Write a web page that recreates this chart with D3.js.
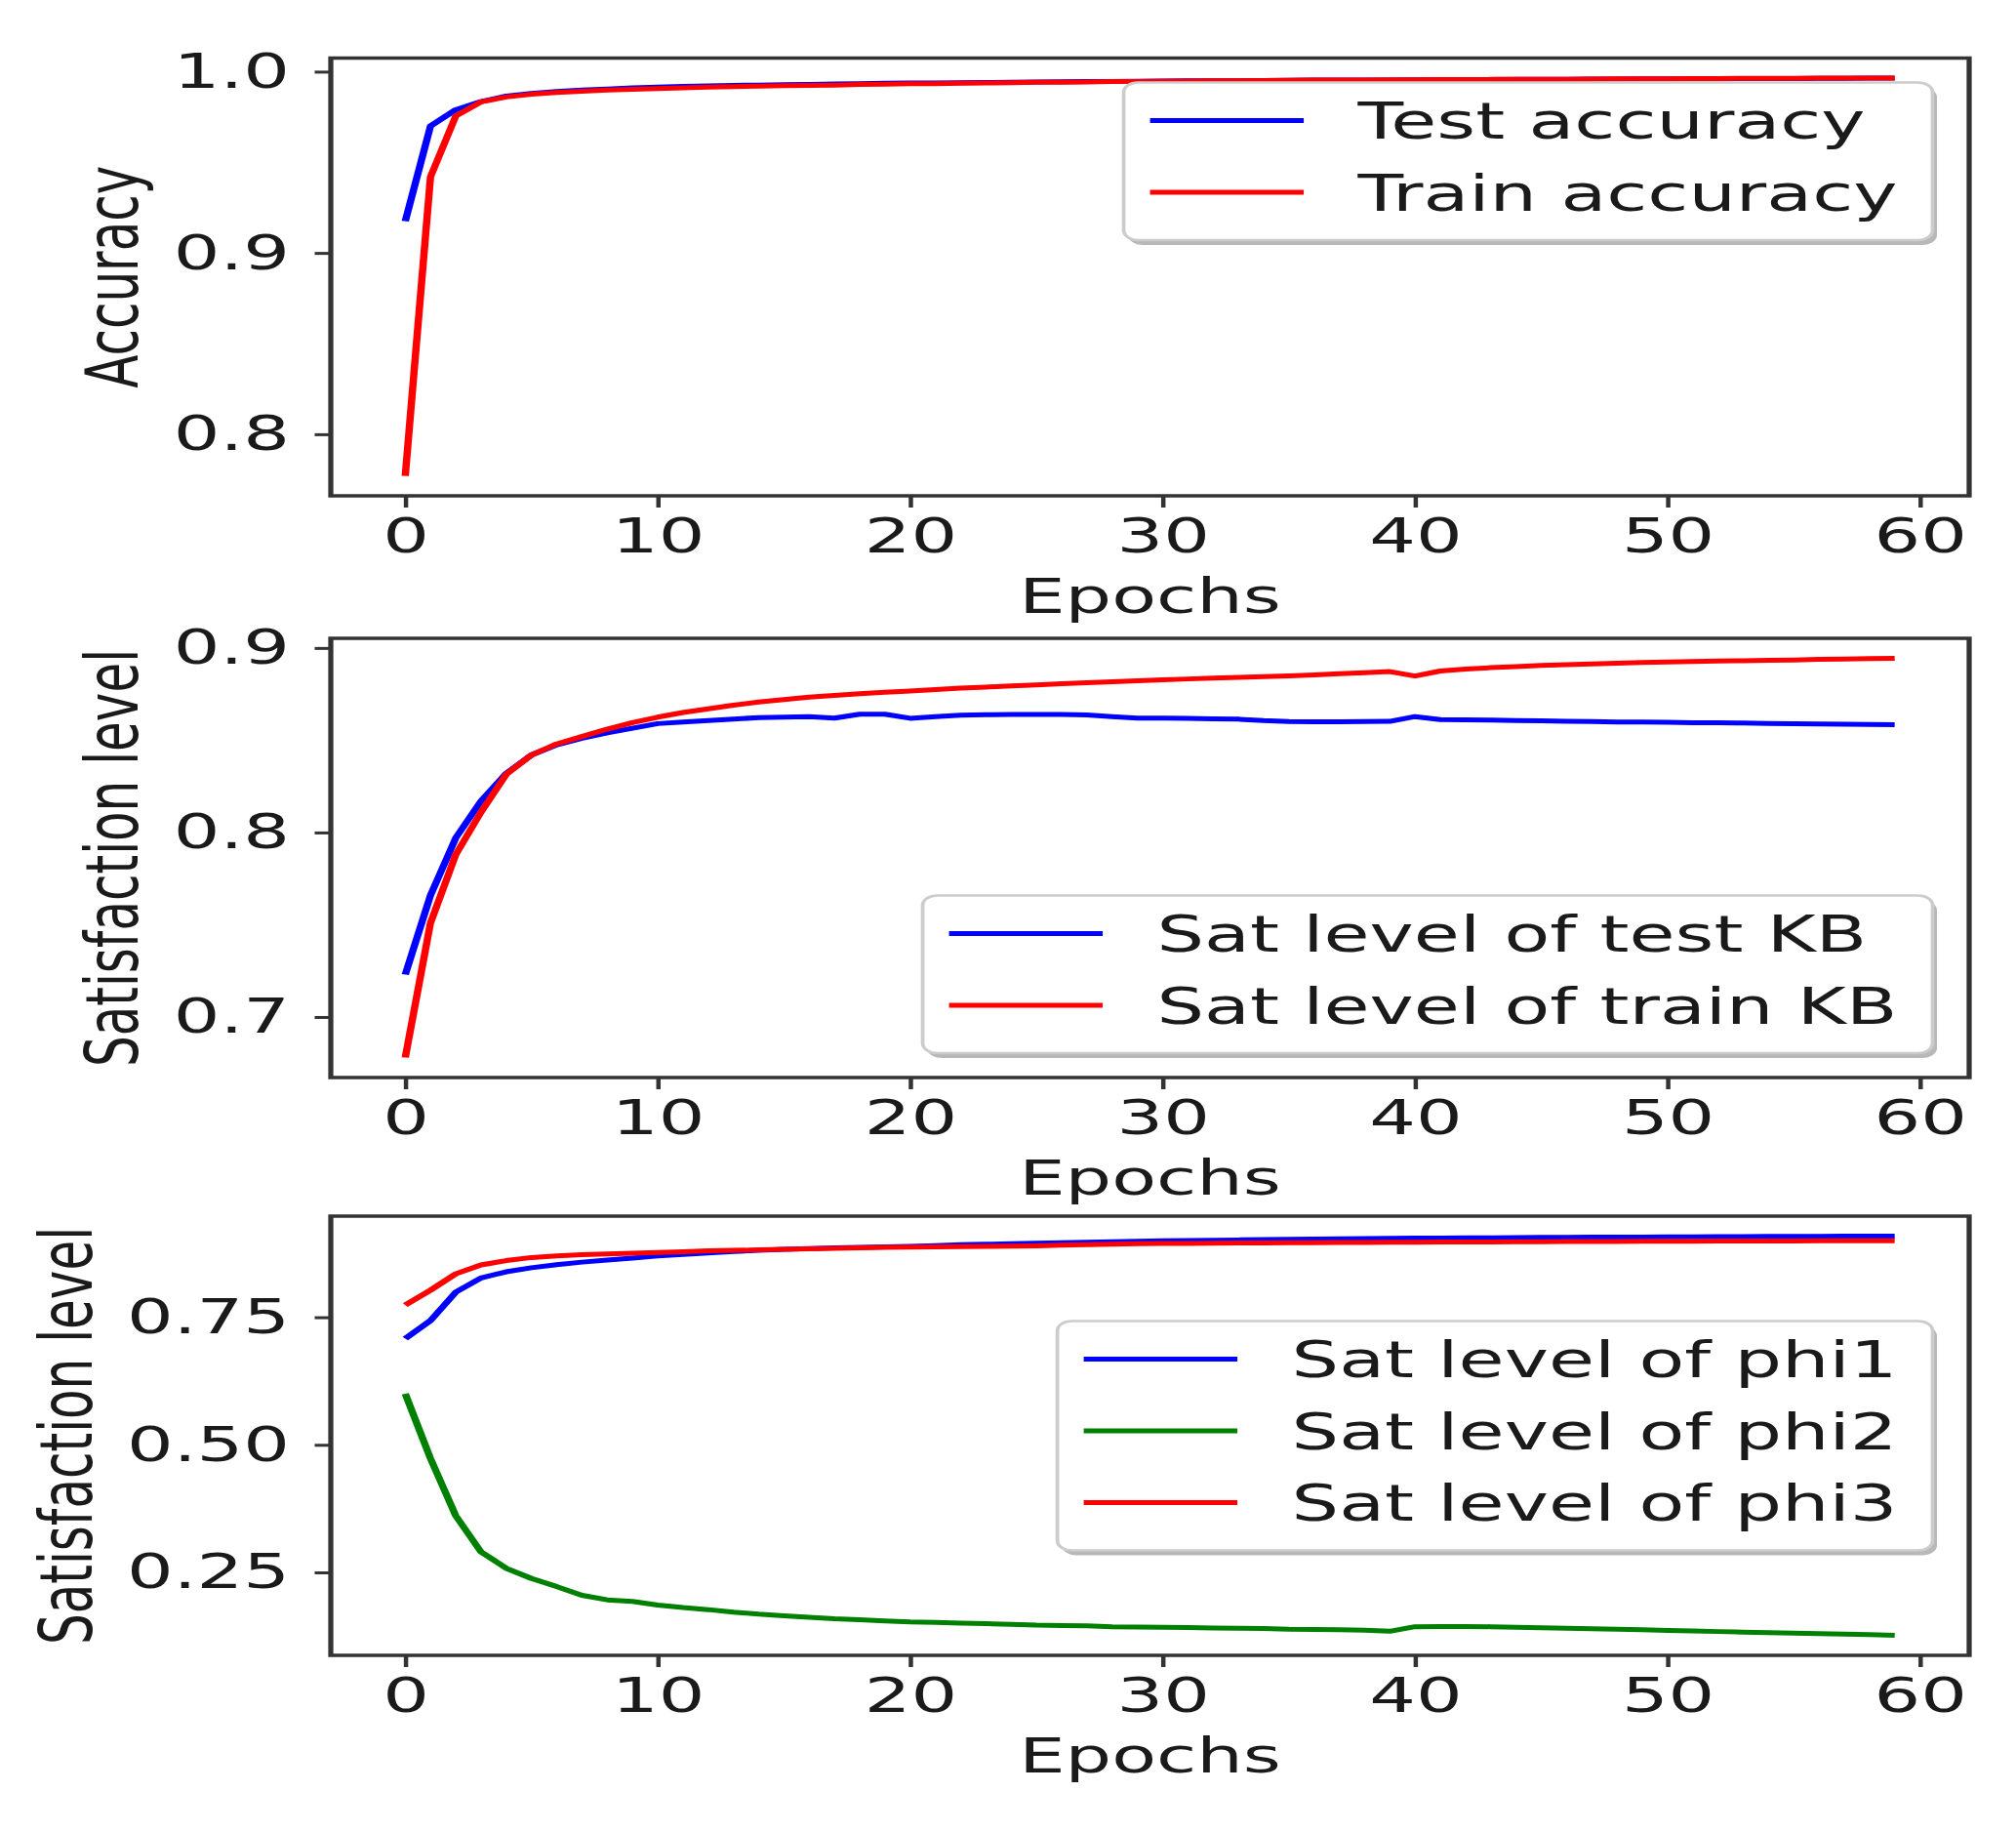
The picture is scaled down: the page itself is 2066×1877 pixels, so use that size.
<!DOCTYPE html>
<html>
<head>
<meta charset="utf-8">
<script src="https://cdn.jsdelivr.net/npm/d3@7"></script>
<style>
  body { margin: 0; background: #fff; }
  text { font-family: "DejaVu Sans", sans-serif; }
</style>
</head>
<body>
<svg id="fig"></svg>
<script>
// tick labels
const xTicks = [0, 10, 20, 30, 40, 50, 60];
const accTicks = [0.8, 0.9, 1.0];
const kbTicks = [0.7, 0.8, 0.9];
const phiTicks = [0.25, 0.5, 0.75];

// panel 1: accuracy per epoch (0..59)
const testAcc = [0.9175,0.970,0.979,0.9835,0.9865,0.9880,0.9890,0.9898,0.9904,0.9910,
  0.9915,0.9918,0.9921,0.9924,0.9926,0.9928,0.9930,0.9932,0.9934,0.9936,
  0.9937,0.9938,0.9939,0.9940,0.9941,0.9943,0.9944,0.9945,0.9946,0.9947,
  0.9948,0.9949,0.9950,0.9950,0.9951,0.9952,0.9953,0.9953,0.9954,0.9954,
  0.9955,0.9955,0.9956,0.9956,0.9957,0.9958,0.9958,0.9959,0.9959,0.9960,
  0.9960,0.9961,0.9961,0.9962,0.9962,0.9962,0.9963,0.9963,0.9964,0.9964];
const trainAcc = [0.777,0.942,0.9755,0.9833,0.9860,0.9875,0.9885,0.9892,0.9898,0.9903,
  0.9907,0.9911,0.9914,0.9917,0.9920,0.9922,0.9924,0.9926,0.9929,0.9931,
  0.9933,0.9934,0.9936,0.9937,0.9939,0.9941,0.9942,0.9943,0.9945,0.9946,
  0.9947,0.9948,0.9949,0.9950,0.9951,0.9952,0.9953,0.9953,0.9954,0.9955,
  0.9955,0.9956,0.9956,0.9957,0.9957,0.9958,0.9958,0.9959,0.9960,0.9961,
  0.9961,0.9962,0.9962,0.9963,0.9963,0.9963,0.9964,0.9964,0.9965,0.9965];

// panel 2: sat level of the knowledge bases
const testKB = [0.723,0.766,0.797,0.817,0.832,0.842,0.8475,0.851,0.854,0.8565,
  0.859,0.8598,0.8606,0.8615,0.8622,0.8625,0.8628,0.8620,0.8641,0.8641,
  0.8619,0.8628,0.8636,0.8638,0.8640,0.8640,0.8639,0.8637,0.8628,0.8620,
  0.8620,0.8618,0.8616,0.8614,0.8606,0.8601,0.8600,0.8600,0.8601,0.8602,
  0.8628,0.8612,0.8610,0.8609,0.8607,0.8605,0.8603,0.8601,0.8599,0.8598,
  0.8597,0.8595,0.8594,0.8593,0.8591,0.8590,0.8588,0.8587,0.8585,0.8584];
const trainKB = [0.678,0.751,0.788,0.811,0.8315,0.842,0.848,0.852,0.856,0.8595,
  0.8625,0.8650,0.8670,0.8690,0.8707,0.8720,0.8733,0.8743,0.8752,0.8760,
  0.8766,0.8774,0.8782,0.8788,0.8794,0.8800,0.8806,0.8812,0.8817,0.8822,
  0.8828,0.8832,0.8836,0.8840,0.8844,0.8848,0.8854,0.8860,0.8866,0.8872,
  0.8848,0.8875,0.8886,0.8893,0.8899,0.8905,0.8909,0.8913,0.8917,0.8921,
  0.8924,0.8927,0.8929,0.8931,0.8933,0.8935,0.8938,0.8940,0.8942,0.8944];

// panel 3: sat level of the axioms
const phi1 = [0.708,0.7435,0.799,0.827,0.839,0.847,0.853,0.858,0.862,0.866,
  0.870,0.873,0.876,0.879,0.881,0.883,0.8845,0.886,0.887,0.888,
  0.889,0.8905,0.892,0.893,0.894,0.895,0.896,0.897,0.898,0.899,
  0.900,0.9005,0.901,0.9015,0.902,0.9025,0.903,0.9035,0.904,0.9045,
  0.905,0.9052,0.9055,0.9058,0.906,0.9063,0.9065,0.9068,0.907,0.9072,
  0.9074,0.9076,0.9078,0.908,0.9082,0.9084,0.9086,0.9088,0.9089,0.909];
const phi2 = [0.600,0.473,0.361,0.290,0.258,0.238,0.222,0.205,0.196,0.193,
  0.186,0.181,0.177,0.172,0.168,0.165,0.162,0.159,0.157,0.155,
  0.153,0.152,0.1505,0.1495,0.148,0.1465,0.1458,0.145,0.1435,0.143,
  0.1425,0.142,0.141,0.1405,0.140,0.1385,0.138,0.1375,0.1367,0.1346,
  0.1435,0.144,0.144,0.1435,0.1425,0.1415,0.1405,0.1395,0.1385,0.1375,
  0.136,0.135,0.134,0.133,0.132,0.131,0.130,0.129,0.1278,0.1265];
const phi3 = [0.774,0.803,0.835,0.8525,0.861,0.867,0.870,0.8725,0.874,0.8755,
  0.877,0.8785,0.880,0.881,0.882,0.883,0.884,0.885,0.886,0.887,
  0.8875,0.888,0.8885,0.8888,0.8895,0.890,0.891,0.892,0.893,0.894,
  0.8945,0.8948,0.895,0.8953,0.8956,0.8958,0.896,0.8963,0.8966,0.8968,
  0.897,0.8972,0.8974,0.8976,0.8978,0.898,0.8982,0.8984,0.8986,0.8988,
  0.899,0.8991,0.8992,0.8993,0.8994,0.8995,0.8996,0.8997,0.8998,0.900];

// the original picture is stretched sideways, so draw in a narrower box and stretch it
const S = 1.5, W = 2066, H = 1877, VW = W / S;
const FONT = 50, LEGEND_FONT = 51;

const panels = [
  { top: 59.5, bottom: 508, ylabel: "Accuracy", ticks: accTicks, fmt: ".1f", ylabelX: 140.6, legend: "upper right",
    series: [ { name: "Test accuracy", values: testAcc, color: "#0000ff" },
              { name: "Train accuracy", values: trainAcc, color: "#ff0000" } ] },
  { top: 654, bottom: 1104, ylabel: "Satisfaction level", ticks: kbTicks, fmt: ".1f", ylabelX: 140.6, legend: "lower right",
    series: [ { name: "Sat level of test KB", values: testKB, color: "#0000ff" },
              { name: "Sat level of train KB", values: trainKB, color: "#ff0000" } ] },
  { top: 1246, bottom: 1696, ylabel: "Satisfaction level", ticks: phiTicks, fmt: ".2f", ylabelX: 93.75, legend: "center right",
    series: [ { name: "Sat level of phi1", values: phi1, color: "#0000ff" },
              { name: "Sat level of phi2", values: phi2, color: "#008000" },
              { name: "Sat level of phi3", values: phi3, color: "#ff0000" } ] }
];

const svg = d3.select("#fig")
  .attr("width", W).attr("height", H)
  .attr("viewBox", `0 0 ${VW} ${H}`)
  .attr("preserveAspectRatio", "none");

svg.append("rect").attr("width", VW).attr("height", H).attr("fill", "#fff");

const xL = 339 / S, xR = 2018 / S;
// 60 epochs, matplotlib-like 5% margins
const x = d3.scaleLinear().domain([-2.95, 61.95]).range([xL, xR]);

panels.forEach(drawPanel);

function styleAxis(ax) {
  ax.attr("font-size", FONT).attr("font-family", '"DejaVu Sans", sans-serif').attr("color", "#333");
  ax.selectAll(".tick line").attr("stroke-width", 3);
  ax.selectAll(".tick text").attr("fill", "#1a1a1a");
}

function drawPanel(p) {
  let all = [];
  p.series.forEach(s => { all = all.concat(s.values); });
  const ext = d3.extent(all);
  const pad = (ext[1] - ext[0]) * 0.05;
  const y = d3.scaleLinear().domain([ext[0] - pad, ext[1] + pad]).range([p.bottom, p.top]);

  const g = svg.append("g");

  // data lines
  const line = d3.line().x((d, i) => x(i)).y(d => y(d));
  p.series.forEach(s => {
    g.append("path")
      .datum(s.values)
      .attr("fill", "none")
      .attr("stroke", s.color)
      .attr("stroke-width", 5)
      .attr("stroke-linejoin", "round")
      .attr("d", line);
  });

  // x axis
  const ax = g.append("g")
    .attr("transform", `translate(0,${p.bottom})`)
    .call(d3.axisBottom(x).tickValues(xTicks).tickFormat(d3.format("d")).tickSize(12).tickPadding(10.5));
  ax.select(".domain").remove();
  styleAxis(ax);

  // y axis
  const ay = g.append("g")
    .attr("transform", `translate(${xL},0)`)
    .call(d3.axisLeft(y).tickValues(p.ticks).tickFormat(d3.format(p.fmt)).tickSize(11).tickPadding(17));
  ay.select(".domain").remove();
  styleAxis(ay);

  // spines
  g.append("rect")
    .attr("x", xL).attr("y", p.top)
    .attr("width", xR - xL).attr("height", p.bottom - p.top)
    .attr("fill", "none").attr("stroke", "#333").attr("stroke-width", 3.5);

  // axis labels
  g.append("text")
    .attr("x", (xL + xR) / 2).attr("y", p.bottom + 120)
    .attr("text-anchor", "middle").attr("font-size", FONT).attr("fill", "#1a1a1a")
    .text("Epochs");

  g.append("text")
    .attr("transform", `translate(${p.ylabelX / S},${(p.top + p.bottom) / 2}) rotate(-90)`)
    .attr("text-anchor", "middle").attr("font-size", FONT).attr("fill", "#1a1a1a")
    .text(p.ylabel);

  drawLegend(g, p);
}

function drawLegend(g, p) {
  const n = p.series.length;
  const padTop = 39, pitch = 73.5, padBottom = 49;
  const boxH = padTop + pitch * (n - 1) + padBottom;
  // horizontal pieces, in drawing units
  const padL = 18, handleLen = 105, handlePad = 37, padR = 24;

  const lg = g.append("g");
  const texts = p.series.map(s => lg.append("text")
    .attr("font-size", LEGEND_FONT).attr("fill", "#1a1a1a").text(s.name));
  const maxW = d3.max(texts, t => t.node().getComputedTextLength());
  const boxW = padL + handleLen + handlePad + maxW + padR;

  const right = xR - 0.5 * FONT;
  const left = right - boxW;
  let top;
  if (p.legend === "upper right") top = p.top + 25;
  else if (p.legend === "lower right") top = p.bottom - 25 - boxH;
  else top = (p.top + p.bottom) / 2 - boxH / 2;

  lg.insert("rect", ":first-child")
    .attr("x", left).attr("y", top).attr("width", boxW).attr("height", boxH)
    .attr("rx", 10).attr("ry", 10)
    .attr("fill", "#fff").attr("stroke", "#cccccc").attr("stroke-width", 2.5);
  lg.insert("rect", ":first-child")
    .attr("x", left + 3).attr("y", top + 5).attr("width", boxW).attr("height", boxH)
    .attr("rx", 10).attr("ry", 10)
    .attr("fill", "#888").attr("opacity", 0.6);

  p.series.forEach((s, i) => {
    const ry = top + padTop + pitch * i;
    lg.append("line")
      .attr("x1", left + padL).attr("x2", left + padL + handleLen)
      .attr("y1", ry).attr("y2", ry)
      .attr("stroke", s.color).attr("stroke-width", 5);
    texts[i].attr("x", left + padL + handleLen + handlePad).attr("y", ry + 19).raise();
  });
}
</script>
</body>
</html>
